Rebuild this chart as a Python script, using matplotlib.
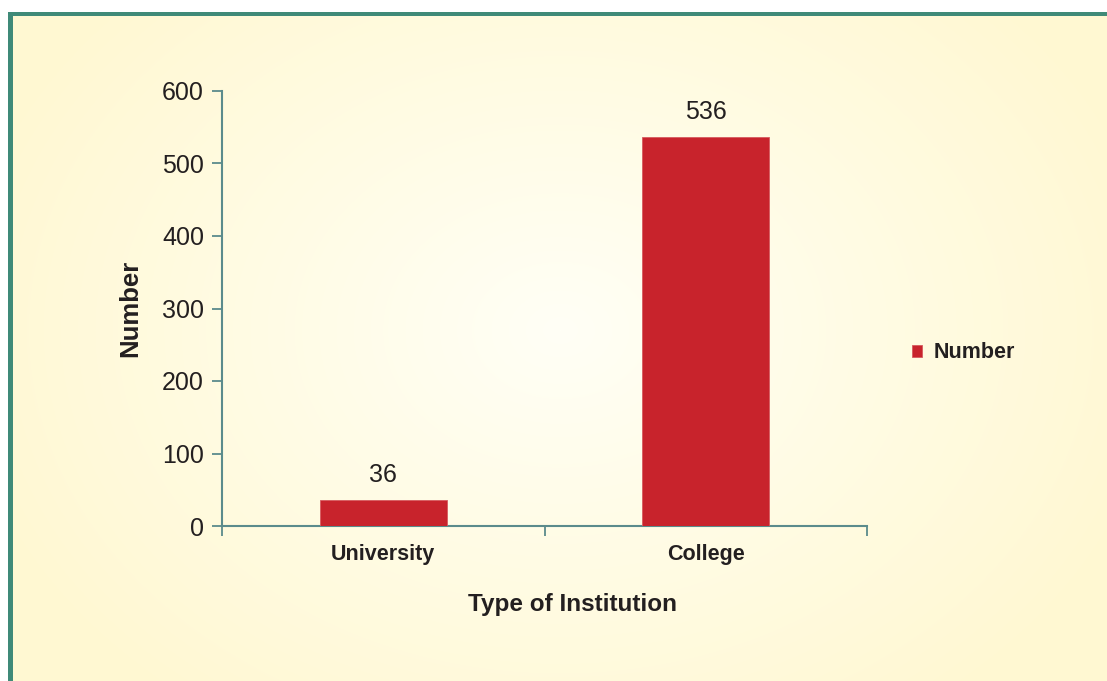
import matplotlib
matplotlib.use('Agg')
import matplotlib.pyplot as plt
import numpy as np
from matplotlib.patches import Rectangle

# Data
categories = ['University', 'College']
numbers = [36, 536]
y_ticks = [0, 100, 200, 300, 400, 500, 600]

BAR_COLOR = '#c8232c'
AXIS_COLOR = '#5b8b8c'
TEXT_COLOR = '#231f20'
BORDER_COLOR = '#3f8a78'

plt.rcParams['font.family'] = ['Liberation Sans', 'DejaVu Sans']

W, H = 1107, 681
fig = plt.figure(figsize=(W / 100, H / 100), dpi=100)

# background: soft radial gradient, white margin, teal frame on top/left
bg = fig.add_axes([0, 0, 1, 1], zorder=-10)
bg.set_xlim(0, W)
bg.set_ylim(H, 0)
bg.axis('off')
yy, xx = np.mgrid[0:H, 0:W]
r = np.sqrt(((xx - 560) / 620.0) ** 2 + ((yy - 330) / 480.0) ** 2)
r = np.clip(r, 0, 1)
c0 = np.array([255, 255, 246]) / 255.0
c1 = np.array([255, 248, 210]) / 255.0
img = c0[None, None, :] * (1 - r[..., None]) + c1[None, None, :] * r[..., None]
bg.imshow(img, extent=[0, W, H, 0], aspect='auto', interpolation='bilinear')
bg.add_patch(Rectangle((0, 0), W, 11.5, color='white', lw=0))
bg.add_patch(Rectangle((0, 0), 8, H, color='white', lw=0))
bg.add_patch(Rectangle((8, 11.5), W - 8, 4.8, color=BORDER_COLOR, lw=0))
bg.add_patch(Rectangle((8, 11.5), 4.8, H - 11.5, color=BORDER_COLOR, lw=0))

ax = fig.add_axes([222 / W, 1 - 526 / H, (867 - 222) / W, (526 - 91) / H])
ax.patch.set_alpha(0)

x = np.arange(len(categories))
bars = ax.bar(x, numbers, width=0.395, color=BAR_COLOR, edgecolor='#d65a5f', linewidth=0.6, zorder=3)

for bar, val in zip(bars, numbers):
    ax.text(bar.get_x() + bar.get_width() / 2, val + 18, str(val),
            ha='center', va='bottom', fontsize=18, color=TEXT_COLOR)

ax.set_xlim(-0.5, 1.5)
ax.set_ylim(0, 600)
ax.set_yticks(y_ticks)
ax.set_yticklabels([str(t) for t in y_ticks], fontsize=18, color=TEXT_COLOR)

ax.set_xticks([-0.5, 0.5, 1.5])
ax.set_xticklabels([])
ax.set_xticks(x, minor=True)
ax.set_xticklabels(categories, minor=True, fontsize=15.5, fontweight='bold', color=TEXT_COLOR)
ax.tick_params(axis='x', which='minor', length=0, pad=13)
ax.tick_params(axis='x', which='major', length=7, width=1.3, color=AXIS_COLOR, direction='out')
ax.tick_params(axis='y', length=7, width=1.3, color=AXIS_COLOR, direction='out', pad=6)

for side in ['top', 'right']:
    ax.spines[side].set_visible(False)
for side in ['left', 'bottom']:
    ax.spines[side].set_color(AXIS_COLOR)
    ax.spines[side].set_linewidth(1.5)

ax.set_xlabel('Type of Institution', fontsize=17.5, fontweight='bold', color=TEXT_COLOR)
ax.xaxis.set_label_coords((572 - 222) / 645, -(605 - 526) / 435, transform=ax.transAxes)
ax.xaxis.label.set_va('center')
ax.set_ylabel('Number', fontsize=18.5, fontweight='bold', color=TEXT_COLOR, labelpad=14)

fig.legend([bars[0]], ['Number'], loc='center left', bbox_to_anchor=(893 / W, 1 - 353 / H),
           frameon=False, handlelength=0.45, handleheight=0.45, handletextpad=0.55,
           prop={'size': 15.5, 'weight': 'bold'}, labelcolor=TEXT_COLOR)

fig.savefig('out.png', dpi=100)
